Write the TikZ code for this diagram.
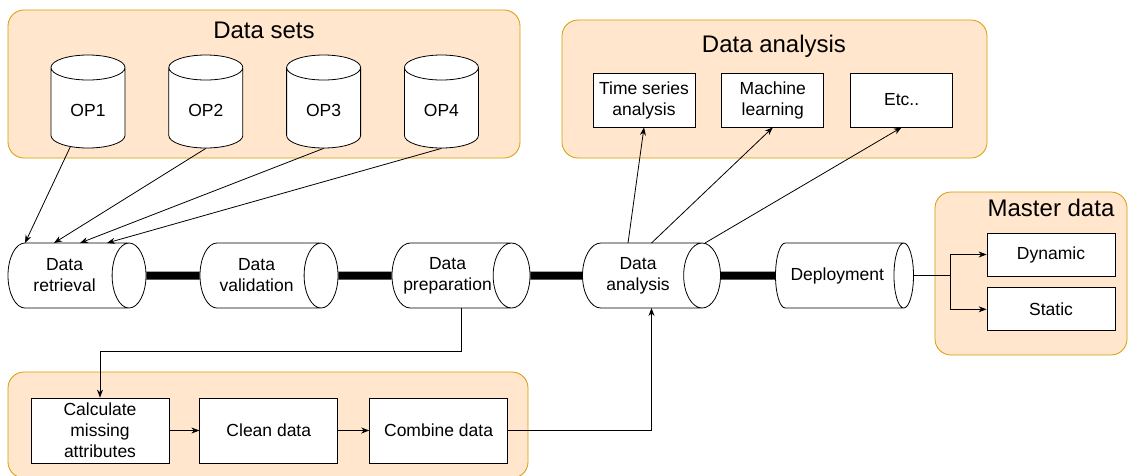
\documentclass[tikz,border=0pt]{standalone}
\usepackage{fontspec}
\setmainfont{Liberation Sans}
\usetikzlibrary{shapes.geometric,arrows.meta,positioning}

\definecolor{groupfill}{HTML}{FFE6CC}
\definecolor{groupline}{HTML}{D79B00}

\begin{document}
\begin{tikzpicture}[
    x=1pt,y=-1pt,
    >={Stealth[length=8pt,width=6pt]},
    line width=0.8pt,
    group node/.style={rectangle,rounded corners=16pt,fill=groupfill,draw=groupline},
    title node/.style={font=\fontsize{24}{28}\selectfont},
    store node/.style={cylinder,shape border rotate=90,aspect=0.6,draw,fill=white,minimum height=93pt,minimum width=74pt,font=\fontsize{17.5}{21}\selectfont},
    stage node/.style={cylinder,aspect=0.85,draw,fill=white,minimum height=138pt,minimum width=65pt,align=center,inner xsep=0pt,anchor=shape center,font=\fontsize{17.5}{21}\selectfont},
    task node/.style={rectangle,draw,fill=white,align=center,inner ysep=1pt,font=\fontsize{17.5}{21}\selectfont},
    link/.style={line width=8pt}
]
\useasboundingbox (0,0) rectangle (1129,475);

% Groups
\node[group node,minimum width=512pt,minimum height=148pt] (setsgroup) at (264,84) {};
\node[group node,minimum width=425pt,minimum height=138pt] (analysisgroup) at (774.5,89) {};
\node[group node,minimum width=192pt,minimum height=163pt] (mastergroup) at (1031,273.5) {};
\node[group node,minimum width=520pt,minimum height=106pt] (prepgroup) at (268,425) {};

\node[title node] (setstitle) at (264,30) {Data sets};
\node[title node] (analysistitle) at (774,46) {Data analysis};
\node[title node] (mastertitle) at (1051,208) {Master data};

% Data sets
\node[store node,anchor=shape center] (op1) at (88,101.5) {OP1};
\node[store node,right=43pt of op1] (op2) {OP2};
\node[store node,right=43pt of op2] (op3) {OP3};
\node[store node,right=43pt of op3] (op4) {OP4};

% Pipeline
\node[stage node] (dret) at (77,275.5) {Data\\retrieval};
\node[stage node] (dval) at (269,275.5) {Data\\validation};
\node[stage node] (dprep) at (461,275.5) {Data\\preparation};
\node[stage node] (danal) at (651.5,275.5) {Data\\analysis};
\node[stage node] (dep) at (844.5,275.5) {Deployment};

% Analysis methods
\node[task node,minimum width=102pt,minimum height=54pt] (ts) at (644,100) {Time series\\analysis};
\node[task node,minimum width=102pt,minimum height=54pt,right=26pt of ts] (ml) {Machine\\learning};
\node[task node,minimum width=102pt,minimum height=54pt,right=26pt of ml] (etc) {Etc..};

% Master data
\node[task node,minimum width=128pt,minimum height=43pt] (dyn) at (1051,254.5) {Dynamic};
\node[task node,minimum width=128pt,minimum height=43pt,below=11pt of dyn] (stat) {Static};

% Preparation steps
\node[task node,minimum width=138pt,minimum height=65pt] (calc) at (100,430.5) {Calculate\\missing\\attributes};
\node[task node,minimum width=138pt,minimum height=65pt,right=30pt of calc] (clean) {Clean data};
\node[task node,minimum width=138pt,minimum height=65pt,right=31pt of clean] (comb) {Combine data};

% Links
\draw[link] (dret.east) -- (dval.west);
\draw[link] (dval.east) -- (dprep.west);
\draw[link] (dprep.east) -- (danal.west);
\draw[link] (danal.east) -- (dep.west);

% Retrieval arrows
\draw[->] (op1.244) -- ([xshift=-52pt,yshift=32.5pt]dret.shape center);
\draw[->] (op2.south) -- ([xshift=-23pt,yshift=32.5pt]dret.shape center);
\draw[->] (op3.south) -- ([xshift=3pt,yshift=32.5pt]dret.shape center);
\draw[->] (op4.south) -- ([xshift=30pt,yshift=32.5pt]dret.shape center);

% Preparation loop
\draw[->] ([yshift=-32.5pt]dprep.shape center) -- ++(0,43) -| (calc.north);
\draw[->] (calc) -- (clean);
\draw[->] (clean) -- (comb);
\draw[->] (comb.east) -| ([yshift=-32.5pt]danal.shape center);

% Analysis arrows
\draw[->] ([xshift=-23.5pt,yshift=32.5pt]danal.shape center) -- (ts.south);
\draw[->] ([yshift=32.5pt]danal.shape center) -- (ml.south);
\draw[->] ([xshift=53.5pt,yshift=32.5pt]danal.shape center) -- (etc.south);

% Deployment
\draw (dep.east) -- ++(36,0) coordinate (split);
\draw[->] (split) |- (dyn.west);
\draw[->] (split) |- (stat.west);

\end{tikzpicture}
\end{document}
